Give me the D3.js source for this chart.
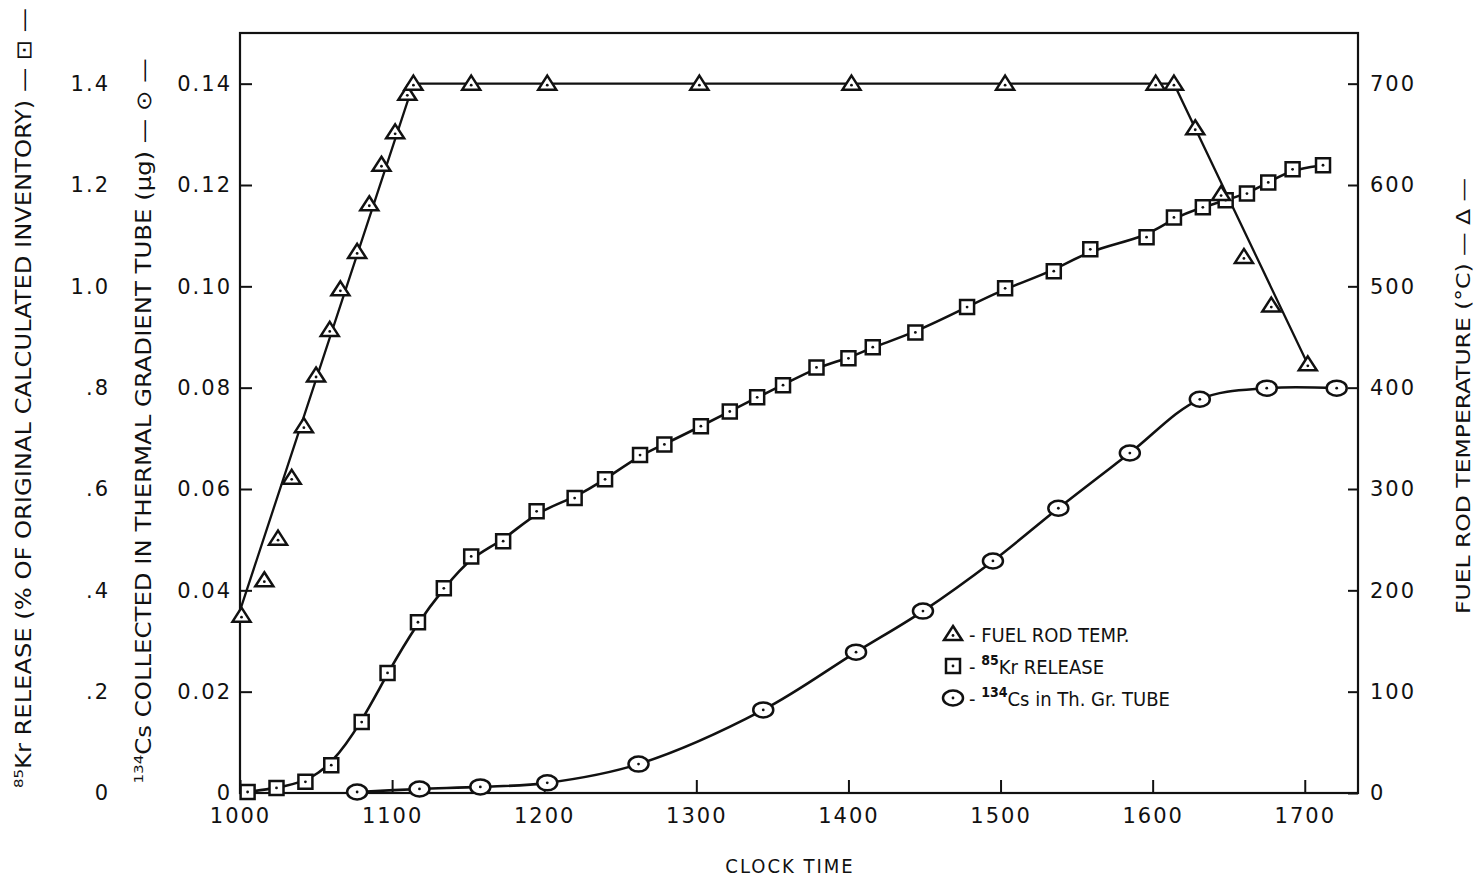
<!DOCTYPE html>
<html>
<head>
<meta charset="utf-8">
<script src="https://cdn.jsdelivr.net/npm/d3@7"></script>
<style>
  body { margin: 0; background: #fff; }
  svg { display: block; }
  .tick text { font-family: "DejaVu Sans", sans-serif; font-size: 21px; letter-spacing: 2px; fill: #111; }
  .title { font-family: "DejaVu Sans Condensed", "DejaVu Sans", sans-serif; fill: #111; }
  .legend text { font-family: "DejaVu Sans Condensed", "DejaVu Sans", sans-serif; font-size: 20px; fill: #111; }
</style>
</head>
<body>
<div id="chart"></div>
<script>
const tempTime = [1001, 1016, 1025, 1034, 1042, 1050, 1059, 1066, 1077, 1085, 1093, 1102, 1110, 1114,
                  1152, 1202, 1302, 1402, 1503, 1602, 1614, 1628, 1645, 1660, 1678, 1702]
const tempVal  = [175, 210, 251, 311, 362, 412, 457, 497, 534, 581, 620, 652, 690, 700,
                  700, 700, 700, 700, 700, 700, 700, 656, 591, 529, 481, 423]
// straight line drawn through the temperature points
const tempFitTime = [1000, 1114, 1614, 1702]
const tempFitVal  = [180, 700, 700, 423]

const krTime = [1005, 1024, 1043, 1060, 1080, 1097, 1117, 1134, 1152, 1173, 1195, 1220, 1240, 1263,
                1279, 1303, 1322, 1340, 1357, 1379, 1400, 1416, 1444, 1478, 1503, 1535, 1559, 1596,
                1614, 1633, 1648, 1662, 1676, 1692, 1712]
const krVal  = [0.002, 0.010, 0.022, 0.055, 0.140, 0.237, 0.337, 0.404, 0.467, 0.497, 0.556, 0.582,
                0.619, 0.667, 0.688, 0.724, 0.753, 0.781, 0.805, 0.840, 0.858, 0.880, 0.909, 0.959,
                0.996, 1.030, 1.073, 1.097, 1.136, 1.156, 1.170, 1.183, 1.205, 1.231, 1.239]

const csTime = [1077, 1118, 1158, 1202, 1262, 1344, 1405, 1449, 1495, 1538, 1585, 1631, 1675, 1721]
const csVal  = [0.0002, 0.0008, 0.0012, 0.0020, 0.0057, 0.0164, 0.0278, 0.0359, 0.0458, 0.0562,
                0.0671, 0.0777, 0.0799, 0.0799]

const xTicks = [1000, 1100, 1200, 1300, 1400, 1500, 1600, 1700]
const csTicks = [0, 0.02, 0.04, 0.06, 0.08, 0.10, 0.12, 0.14]
const krTicks = [0, 0.2, 0.4, 0.6, 0.8, 1.0, 1.2, 1.4]
const tempTicks = [0, 100, 200, 300, 400, 500, 600, 700]

const w = 1478, h = 881
const L = 240, R = 1358, T = 33, B = 793

const svg = d3.select("#chart").append("svg").attr("width", w).attr("height", h)

const x = d3.scaleLinear().domain([1000, 1735]).range([L, R])
const yCs = d3.scaleLinear().domain([0, 0.15]).range([B, T])
const yKr = d3.scaleLinear().domain([0, 1.5]).range([B, T])
const yT = d3.scaleLinear().domain([0, 750]).range([B, T])

// axes
const gx = svg.append("g").attr("transform", "translate(0," + B + ")")
  .call(d3.axisBottom(x).tickValues(xTicks).tickFormat(d3.format("d"))
    .tickSizeInner(-13).tickSizeOuter(0).tickPadding(15))
const gcs = svg.append("g").attr("transform", "translate(" + L + ",0)")
  .call(d3.axisLeft(yCs).tickValues(csTicks)
    .tickFormat(d => d === 0 ? "0" : d3.format(".2f")(d))
    .tickSizeInner(-12).tickSizeOuter(0).tickPadding(8))
const gkr = svg.append("g").attr("transform", "translate(110,0)")
  .call(d3.axisLeft(yKr).tickValues(krTicks)
    .tickFormat(d => d === 0 ? "0" : (d < 1 ? d3.format(".1f")(d).slice(1) : d3.format(".1f")(d)))
    .tickSize(0).tickPadding(0))
gkr.selectAll("line").remove()
const gt = svg.append("g").attr("transform", "translate(" + R + ",0)")
  .call(d3.axisRight(yT).tickValues(tempTicks)
    .tickSizeInner(-10).tickSizeOuter(0).tickPadding(12))

svg.selectAll(".domain").remove()
svg.selectAll(".tick line").attr("stroke", "#111").attr("stroke-width", 2)

svg.append("rect").attr("x", L).attr("y", T).attr("width", R - L).attr("height", B - T)
  .attr("fill", "none").attr("stroke", "#111").attr("stroke-width", 2.2)

// lines
const lineStroke = g => g.attr("fill", "none").attr("stroke", "#111").attr("stroke-width", 2.6)

svg.append("path")
  .datum(d3.zip(tempFitTime, tempFitVal))
  .attr("d", d3.line().x(d => x(d[0])).y(d => yT(d[1])))
  .call(lineStroke).attr("stroke-width", 2.3)

svg.append("path")
  .datum(d3.zip(krTime, krVal))
  .attr("d", d3.line().x(d => x(d[0])).y(d => yKr(d[1])).curve(d3.curveBasis))
  .call(lineStroke)

svg.append("path")
  .datum(d3.zip(csTime, csVal))
  .attr("d", d3.line().x(d => x(d[0])).y(d => yCs(d[1])).curve(d3.curveCatmullRom.alpha(0.5)))
  .call(lineStroke)

// markers
const tri = "M0,-8L9,6L-9,6Z"
const sq = "M-7,-7H7V7H-7Z"

function marker(g, kind) {
  if (kind === "tri") g.append("path").attr("d", tri)
  else if (kind === "sq") g.append("path").attr("d", sq)
  else g.append("ellipse").attr("rx", 10).attr("ry", 7.5)
  g.selectAll("path,ellipse").attr("fill", "#fff").attr("stroke", "#111").attr("stroke-width", 2.5)
  g.append("circle").attr("r", 1.4).attr("cy", kind === "tri" ? 1.5 : 0).attr("fill", "#111")
}

svg.append("g").selectAll("g").data(d3.zip(krTime, krVal)).enter().append("g")
  .attr("transform", d => "translate(" + x(d[0]) + "," + yKr(d[1]) + ")")
  .each(function() { marker(d3.select(this), "sq") })

svg.append("g").selectAll("g").data(d3.zip(csTime, csVal)).enter().append("g")
  .attr("transform", d => "translate(" + x(d[0]) + "," + yCs(d[1]) + ")")
  .each(function() { marker(d3.select(this), "cs") })

svg.append("g").selectAll("g").data(d3.zip(tempTime, tempVal)).enter().append("g")
  .attr("transform", d => "translate(" + x(d[0]) + "," + yT(d[1]) + ")")
  .each(function() { marker(d3.select(this), "tri") })

// axis titles
svg.append("text").attr("class", "title")
  .attr("x", 790).attr("y", 873).attr("text-anchor", "middle")
  .style("font-size", "20px").style("letter-spacing", "2px").text("CLOCK TIME")

const t1 = svg.append("text").attr("class", "title")
  .attr("transform", "translate(31,398) rotate(-90)").attr("text-anchor", "middle")
  .attr("textLength", 780).attr("lengthAdjust", "spacingAndGlyphs")
  .style("font-size", "21px")
t1.append("tspan").attr("dy", -8).style("font-size", "13px").text("85")
t1.append("tspan").attr("dy", 8).text("Kr RELEASE (% OF ORIGINAL CALCULATED INVENTORY) — ⊡ —")

const t2 = svg.append("text").attr("class", "title")
  .attr("transform", "translate(151,421) rotate(-90)").attr("text-anchor", "middle")
  .attr("textLength", 725).attr("lengthAdjust", "spacingAndGlyphs")
  .style("font-size", "21px")
t2.append("tspan").attr("dy", -8).style("font-size", "13px").text("134")
t2.append("tspan").attr("dy", 8).text("Cs COLLECTED IN THERMAL GRADIENT TUBE (μg) — ⊙ —")

svg.append("text").attr("class", "title")
  .attr("transform", "translate(1470,396) rotate(-90)").attr("text-anchor", "middle")
  .attr("textLength", 436).attr("lengthAdjust", "spacingAndGlyphs")
  .style("font-size", "20px").text("FUEL ROD TEMPERATURE (°C)  — Δ —")

// legend
const leg = svg.append("g").attr("class", "legend")
const legItems = [["tri", "FUEL ROD TEMP.", null], ["sq", "Kr RELEASE", "85"], ["cs", "Cs in Th. Gr. TUBE", "134"]]
legItems.forEach(function(it, i) {
  const yy = 634 + i * 32
  const m = leg.append("g").attr("transform", "translate(953," + yy + ")")
  marker(m, it[0])
  const t = leg.append("text").attr("x", 969).attr("y", yy + 8)
  t.append("tspan").text(i === 0 ? "- " : "-  ")
  if (it[2]) {
    t.append("tspan").attr("dy", -9).style("font-size", "14px").style("font-weight", "bold").text(it[2])
    t.append("tspan").attr("dy", 9).text(it[1])
  } else {
    t.append("tspan").text(it[1])
  }
})
</script>
</body>
</html>
